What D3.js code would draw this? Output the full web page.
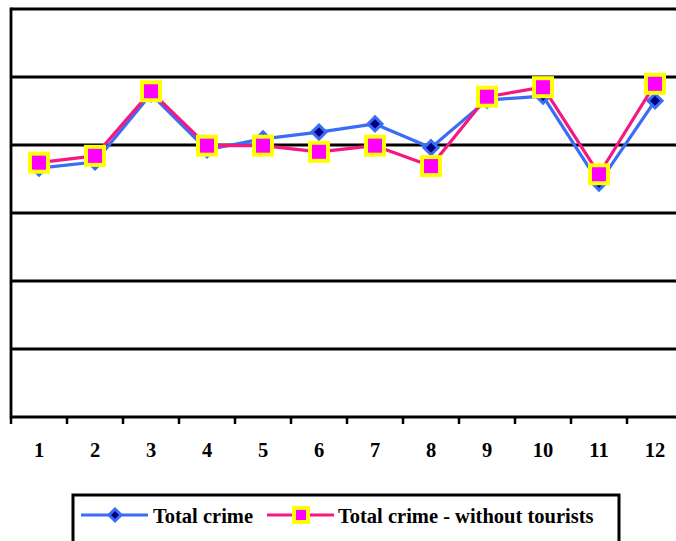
<!DOCTYPE html>
<html>
<head>
<meta charset="utf-8">
<script src="https://cdn.jsdelivr.net/npm/d3@7/dist/d3.min.js"></script>
<style>
  html, body { margin: 0; padding: 0; background: #fff; }
  svg { display: block; }
  text { font-family: "Liberation Serif", "Times New Roman", serif; font-weight: bold; fill: #000; }
</style>
</head>
<body>
<svg id="chart" width="676" height="541"></svg>
<script>
// Months 1..12
const categories = ["1","2","3","4","5","6","7","8","9","10","11","12"];
// Total crime (all offences)
const totalCrime = [36.6, 37.5, 47.5, 39.3, 40.9, 41.9, 43.1, 39.6, 46.6, 47.2, 34.4, 46.5];
// Total crime excluding offences against tourists
const withoutTourists = [37.4, 38.4, 47.9, 39.9, 39.9, 39.0, 39.9, 36.9, 47.1, 48.5, 35.7, 49.0];
// Horizontal gridline values
const gridValues = [0, 10, 20, 30, 40, 50, 60];
const seriesNames = ["Total crime", "Total crime - without tourists"];

const svg = d3.select("#chart");
const plotLeft = 11, plotRight = 683, plotTop = 9, plotBottom = 417;

const x = d3.scaleBand().domain(categories).range([plotLeft, plotRight]).paddingInner(0).paddingOuter(0);
const y = d3.scaleLinear().domain([0, 60]).range([plotBottom, plotTop]);

// gridlines
svg.append("g").selectAll("line").data(gridValues).join("line")
  .attr("x1", plotLeft).attr("x2", 676)
  .attr("y1", d => y(d)).attr("y2", d => y(d))
  .attr("stroke", "#000").attr("stroke-width", 2.8);

// left axis line
svg.append("line").attr("x1", plotLeft).attr("x2", plotLeft).attr("y1", plotTop - 1.4).attr("y2", plotBottom + 1.4)
  .attr("stroke", "#000").attr("stroke-width", 2.8);

// x axis ticks at category boundaries
const boundaries = categories.map(c => x(c));
svg.append("g").selectAll("line").data(boundaries).join("line")
  .attr("x1", d => d).attr("x2", d => d)
  .attr("y1", plotBottom).attr("y2", plotBottom + 7)
  .attr("stroke", "#000").attr("stroke-width", 2.5);

svg.append("g").selectAll("text").data(categories).join("text")
  .attr("x", d => x(d) + x.bandwidth() / 2)
  .attr("y", 457)
  .attr("text-anchor", "middle")
  .attr("font-size", 20.5)
  .text(d => d);

const cx = d => x(d) + x.bandwidth() / 2;
const line = d3.line().x((d, i) => cx(categories[i])).y(d => y(d));

const blue = "#3a6df5", pink = "#f5197f";

function diamond(sel, r) {
  sel.attr("d", `M0,${-r}L${r},0L0,${r}L${-r},0Z`)
    .attr("fill", "#000080").attr("stroke", blue).attr("stroke-width", 3);
}
function square(sel, s) {
  sel.attr("x", -s / 2).attr("y", -s / 2).attr("width", s).attr("height", s)
    .attr("fill", "#ff00ff").attr("stroke", "#ffff00").attr("stroke-width", 4);
}

// Total crime
svg.append("path").datum(totalCrime).attr("d", line)
  .attr("fill", "none").attr("stroke", blue).attr("stroke-width", 3.2).attr("stroke-linejoin", "round");
svg.append("g").selectAll("path").data(totalCrime).join("path")
  .attr("transform", (d, i) => `translate(${cx(categories[i])},${y(d)})`)
  .call(diamond, 7);

// Total crime without tourists
svg.append("path").datum(withoutTourists).attr("d", line)
  .attr("fill", "none").attr("stroke", pink).attr("stroke-width", 3.2).attr("stroke-linejoin", "round");
svg.append("g").selectAll("rect").data(withoutTourists).join("rect")
  .attr("transform", (d, i) => `translate(${cx(categories[i])},${y(d)})`)
  .call(square, 18);

// legend
const lg = svg.append("g");
lg.append("rect").attr("x", 73).attr("y", 495).attr("width", 546).attr("height", 60)
  .attr("fill", "#fff").attr("stroke", "#000").attr("stroke-width", 3);
const ly = 515;
lg.append("line").attr("x1", 81).attr("x2", 148).attr("y1", ly).attr("y2", ly)
  .attr("stroke", blue).attr("stroke-width", 3.2);
lg.append("path").attr("transform", `translate(115,${ly})`).call(diamond, 6);
lg.append("text").attr("x", 153).attr("y", ly + 8).attr("font-size", 20.5).text(seriesNames[0]);
lg.append("line").attr("x1", 267).attr("x2", 334).attr("y1", ly).attr("y2", ly)
  .attr("stroke", pink).attr("stroke-width", 3.2);
lg.append("rect").attr("transform", `translate(301,${ly})`).call(square, 14);
lg.append("text").attr("x", 338).attr("y", ly + 8).attr("font-size", 20.5).text(seriesNames[1]);
</script>
</body>
</html>
